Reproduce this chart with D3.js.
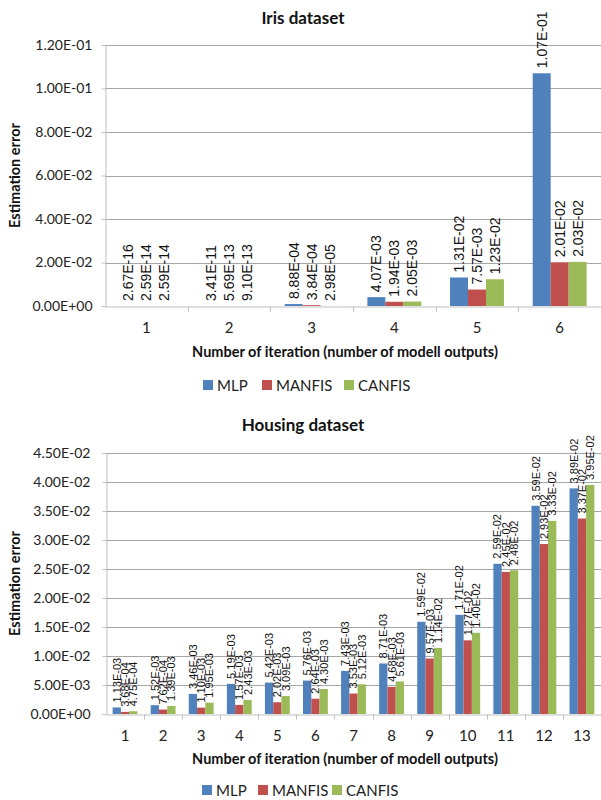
<!DOCTYPE html>
<html><head><meta charset="utf-8">
<script src="https://cdn.jsdelivr.net/npm/d3@7"></script>
<style>
body{margin:0;background:#fff;}
svg{display:block;}
</style></head>
<body>
<svg id="c" width="601" height="800"></svg>
<script>
const seriesNames = ["MLP", "MANFIS", "CANFIS"];
const seriesColors = ["#4F81BD", "#C0504D", "#9BBB59"];

const irisCategories = ["1", "2", "3", "4", "5", "6"];
const irisMLP    = [2.67e-16, 3.41e-11, 8.88e-4, 4.07e-3, 1.31e-2, 1.07e-1];
const irisMANFIS = [2.59e-14, 5.69e-13, 3.84e-4, 1.94e-3, 7.57e-3, 2.01e-2];
const irisCANFIS = [2.59e-14, 9.10e-13, 2.98e-5, 2.05e-3, 1.23e-2, 2.03e-2];
const irisTicks  = [0, 0.02, 0.04, 0.06, 0.08, 0.10, 0.12];

const housingCategories = ["1","2","3","4","5","6","7","8","9","10","11","12","13"];
const housingMLP    = [1.13e-3, 1.52e-3, 3.46e-3, 5.19e-3, 5.42e-3, 5.76e-3, 7.43e-3, 8.71e-3, 1.59e-2, 1.71e-2, 2.59e-2, 3.59e-2, 3.89e-2];
const housingMANFIS = [3.68e-4, 7.62e-4, 1.10e-3, 1.57e-3, 2.02e-3, 2.64e-3, 3.53e-3, 4.68e-3, 9.57e-3, 1.27e-2, 2.45e-2, 2.93e-2, 3.37e-2];
const housingCANFIS = [4.75e-4, 1.39e-3, 1.95e-3, 2.43e-3, 3.09e-3, 4.30e-3, 5.12e-3, 5.61e-3, 1.14e-2, 1.40e-2, 2.48e-2, 3.33e-2, 3.95e-2];
const housingTicks  = [0, 0.005, 0.01, 0.015, 0.02, 0.025, 0.03, 0.035, 0.04, 0.045];

const xTitle = "Number of iteration (number of modell outputs)";
const yTitle = "Estimation error";

function sci(v){
  const s = v.toExponential(2);
  const [m, e] = s.split("e");
  const sign = e[0] === "-" ? "-" : "+";
  const d = e.replace(/[+-]/, "");
  return m + "E" + sign + (d.length < 2 ? "0" + d : d);
}

const svg = d3.select("#c");
const uiFont = "Lato, 'Noto Sans', sans-serif";
const lblFont = "'Liberation Sans', Arial, sans-serif";

function drawChart(cfg){
  const g = svg.append("g");
  const x0 = d3.scaleBand().domain(cfg.categories).range([cfg.left, cfg.right]).paddingInner(0).paddingOuter(0);
  const x1 = d3.scaleBand().domain(seriesNames).range([0, x0.bandwidth()]).paddingInner(0).paddingOuter(0.8);
  const y = d3.scaleLinear().domain([0, cfg.max]).range([cfg.bottom, cfg.top]);

  g.append("g").selectAll("line").data(cfg.ticks.slice(1)).join("line")
    .attr("x1", cfg.left).attr("x2", cfg.right)
    .attr("y1", d => Math.round(y(d)) + 0.5).attr("y2", d => Math.round(y(d)) + 0.5)
    .attr("stroke", "#A6A6A6").attr("stroke-width", 1);

  const ya = d3.axisLeft(y).tickValues(cfg.ticks).tickFormat(sci).tickSize(4).tickPadding(cfg.tickPad);
  const yg = g.append("g").attr("transform", `translate(${cfg.left + 0.5},0)`).call(ya);
  yg.select(".domain").attr("stroke", "#BFBFBF");
  yg.selectAll(".tick line").attr("stroke", "#BFBFBF");
  yg.selectAll("text").attr("font-family", uiFont).attr("font-size", 14).attr("fill", "#222");

  const xa = d3.axisBottom(x0).tickSize(0).tickPadding(cfg.xPad);
  const xg = g.append("g").attr("transform", `translate(0,${cfg.bottom + 0.5})`).call(xa);
  xg.select(".domain").attr("stroke", "#BFBFBF");
  xg.selectAll("text").attr("font-family", uiFont).attr("font-size", 15).attr("fill", "#222");
  xg.append("g").selectAll("line").data(cfg.categories.slice(1)).join("line")
    .attr("x1", d => Math.round(x0(d)) + 0.5).attr("x2", d => Math.round(x0(d)) + 0.5)
    .attr("y1", 0).attr("y2", 5).attr("stroke", "#BFBFBF");

  const vals = [cfg.s1, cfg.s2, cfg.s3];
  const rows = [];
  cfg.categories.forEach((c, i) => seriesNames.forEach((s, j) => rows.push({c, s, j, v: vals[j][i]})));

  g.append("g").selectAll("rect").data(rows).join("rect")
    .attr("x", d => x0(d.c) + x1(d.s))
    .attr("width", x1.bandwidth())
    .attr("y", d => y(d.v))
    .attr("height", d => cfg.bottom - y(d.v))
    .attr("fill", d => seriesColors[d.j]);

  g.append("g").selectAll("text").data(rows).join("text")
    .attr("transform", d => `translate(${x0(d.c) + x1(d.s) + x1.bandwidth() / 2},${y(d.v) - cfg.lblGap}) rotate(-90)`)
    .attr("dy", "0.36em")
    .attr("font-family", lblFont).attr("font-size", cfg.lblSize).attr("fill", "#111")
    .text(d => sci(d.v));

  g.append("text").attr("x", 303).attr("y", cfg.titleY).attr("text-anchor", "middle")
    .attr("font-family", uiFont).attr("font-weight", "bold").attr("font-size", 17).attr("fill", "#111").text(cfg.title);
  g.append("text").attr("transform", `translate(20,${(cfg.top + cfg.bottom) / 2}) rotate(-90)`).attr("text-anchor", "middle")
    .attr("font-family", uiFont).attr("font-weight", "bold").attr("font-size", 14.5).attr("fill", "#111").text(yTitle);
  g.append("text").attr("x", 345).attr("y", cfg.xTitleY).attr("text-anchor", "middle")
    .attr("font-family", uiFont).attr("font-weight", "bold").attr("font-size", 14.5).attr("fill", "#111").text(xTitle);

  const legX = cfg.legX;
  const lg = g.append("g").attr("transform", `translate(0,${cfg.legY})`);
  seriesNames.forEach((s, j) => {
    lg.append("rect").attr("x", legX[j]).attr("y", -5).attr("width", 10).attr("height", 10).attr("fill", seriesColors[j]);
    lg.append("text").attr("x", legX[j] + 14).attr("y", 5.5).attr("font-family", uiFont).attr("font-size", 15).attr("fill", "#222").text(s);
  });
}

drawChart({
  categories: irisCategories, s1: irisMLP, s2: irisMANFIS, s3: irisCANFIS, ticks: irisTicks, max: 0.12,
  left: 105, right: 601, top: 45, bottom: 306, tickPad: 9, xPad: 16, lblGap: 5, lblSize: 14,
  title: "Iris dataset", titleY: 24, xTitleY: 357, legY: 385, legX: [203, 262, 344]
});

drawChart({
  categories: housingCategories, s1: housingMLP, s2: housingMANFIS, s3: housingCANFIS, ticks: housingTicks, max: 0.045,
  left: 106, right: 601, top: 453, bottom: 714, tickPad: 12, xPad: 16, lblGap: 5, lblSize: 11,
  title: "Housing dataset", titleY: 431, xTitleY: 764, legY: 790, legX: [202, 258, 332]
});
</script>
</body></html>
